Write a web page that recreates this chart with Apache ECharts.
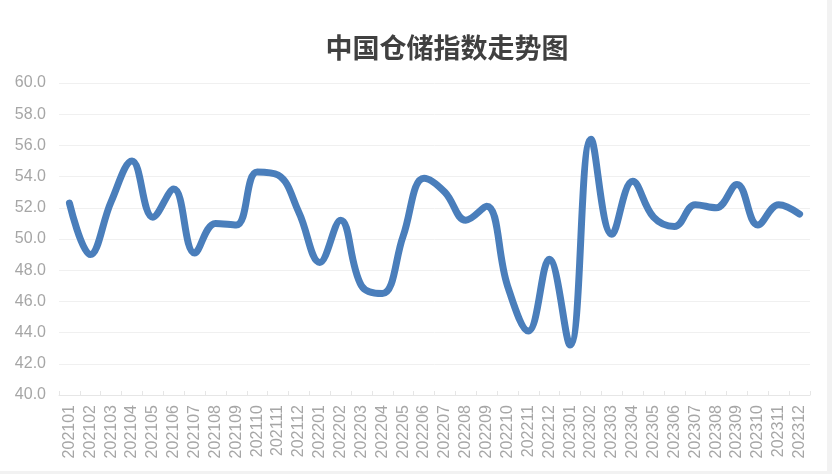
<!DOCTYPE html>
<html><head><meta charset="utf-8">
<script src="https://cdn.jsdelivr.net/npm/echarts@6/dist/echarts.min.js"></script>
<style>
html,body{margin:0;padding:0;background:#f2f2f2;}
#c{width:827px;height:471px;background:#fff;}
</style></head>
<body><div id="c"></div>
<script>
const categories = ['202101','202102','202103','202104','202105','202106','202107','202108','202109','202110','202111','202112',
'202201','202202','202203','202204','202205','202206','202207','202208','202209','202210','202211','202212',
'202301','202302','202303','202304','202305','202306','202307','202308','202309','202310','202311','202312'];
const values = [52.3,49.0,52.4,55.0,51.4,53.2,49.1,51.0,50.9,54.3,54.1,51.7,
48.5,51.2,47.0,46.5,50.2,53.9,53.0,51.2,52.1,47.0,44.1,48.7,
43.2,56.4,50.3,53.7,51.4,50.8,52.2,52.0,53.5,50.9,52.2,51.6];
const title = '中国仓储指数走势图';

const chart = echarts.init(document.getElementById('c'));
chart.setOption({
  backgroundColor:'#ffffff',
  animation:false,
  title:{text:title,left:442,textAlign:'center',top:29,
    textStyle:{fontFamily:'Noto Sans CJK SC',fontSize:27,fontWeight:'bold',color:'#404040'}},
  grid:{left:59,right:17,top:83,bottom:76},
  xAxis:{type:'category',data:categories,boundaryGap:true,
    axisLine:{lineStyle:{color:'#e6e6e6',width:1}},
    axisTick:{show:true,inside:true,length:4,lineStyle:{color:'#e6e6e6'}},
    axisLabel:{rotate:90,interval:0,margin:10,color:'#a6a6a6',fontSize:16,fontFamily:'Liberation Sans'}},
  yAxis:{type:'value',min:40,max:60,interval:2,
    axisLine:{show:false},axisTick:{show:false},
    splitLine:{lineStyle:{color:'#f0f0f0',width:1}},
    axisLabel:{formatter:v=>v.toFixed(1),color:'#a6a6a6',fontSize:16,margin:13,fontFamily:'Liberation Sans'}},
  series:[{type:'line',data:values,smooth:0.4,showSymbol:false,
    lineStyle:{color:'#4a7ebb',width:7,cap:'round',join:'round'}}]
});
</script></body></html>
